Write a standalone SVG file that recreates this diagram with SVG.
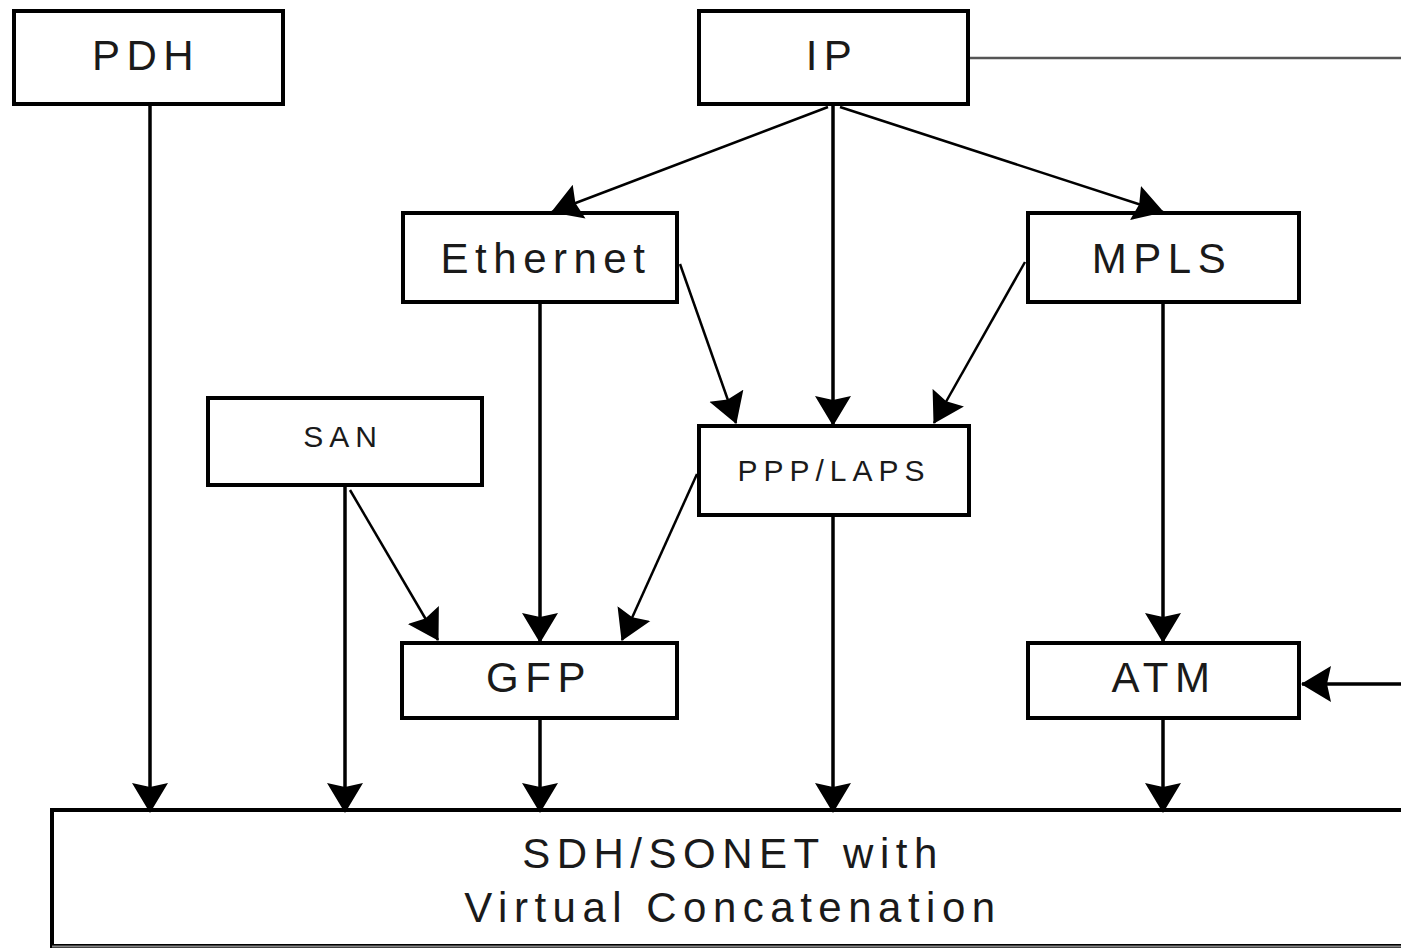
<svg xmlns="http://www.w3.org/2000/svg" width="1401" height="948" viewBox="0 0 1401 948">
  <defs>
    <marker id="head" markerUnits="userSpaceOnUse" viewBox="0 -19 30 38" markerWidth="30" markerHeight="38" refX="29" refY="0" orient="auto">
      <path d="M30,0 L0,-18 L4,0 L0,18 Z" fill="#000"/>
    </marker>
    <style>
      .box { fill: #fff; stroke: #000; stroke-width: 4; }
      .lbl { font-family: "Liberation Sans", Arial, sans-serif; fill: #1a1a1a; text-anchor: middle; }
      .big { font-size: 42px; letter-spacing: 6.5px; }
      .small { font-size: 30px; letter-spacing: 6px; }
      .v { stroke: #000; stroke-width: 3.5; fill: none; }
      .d { stroke: #000; stroke-width: 2.5; fill: none; }
      .arr { marker-end: url(#head); }
    </style>
  </defs>
  <rect width="1401" height="948" fill="#fff"/>

  <!-- bottom layer box -->
  <g id="sdh">
    <rect class="box" x="52" y="810" width="1400" height="136"/>
    <line x1="52" y1="946.5" x2="1401" y2="946.5" stroke="#888" stroke-width="2"/>
    <text class="lbl big" x="733" y="868">SDH/SONET with</text>
    <text class="lbl big" x="733" y="922">Virtual Concatenation</text>
  </g>

  <g id="pdh">
    <rect class="box" x="14" y="11" width="269" height="93"/>
    <text class="lbl big" x="146" y="70">PDH</text>
  </g>
  <g id="ip">
    <rect class="box" x="699" y="11" width="269" height="93"/>
    <text class="lbl big" x="832" y="70">IP</text>
  </g>
  <g id="ethernet">
    <rect class="box" x="403" y="213" width="274" height="89"/>
    <text class="lbl big" x="546" y="273">Ethernet</text>
  </g>
  <g id="mpls">
    <rect class="box" x="1028" y="213" width="271" height="89"/>
    <text class="lbl big" x="1162" y="273">MPLS</text>
  </g>
  <g id="san">
    <rect class="box" x="208" y="398" width="274" height="87"/>
    <text class="lbl small" x="343" y="447">SAN</text>
  </g>
  <g id="ppp-laps">
    <rect class="box" x="699" y="426" width="270" height="89"/>
    <text class="lbl small" x="834" y="481">PPP/LAPS</text>
  </g>
  <g id="gfp">
    <rect class="box" x="402" y="643" width="275" height="75"/>
    <text class="lbl big" x="539" y="692">GFP</text>
  </g>
  <g id="atm">
    <rect class="box" x="1028" y="643" width="271" height="75"/>
    <text class="lbl big" x="1164" y="692">ATM</text>
  </g>

  <g id="connectors">
    <!-- IP continues off to the right -->
    <line x1="970" y1="58" x2="1401" y2="58" stroke="#555" stroke-width="2.5"/>
    <!-- into ATM from the right -->
    <line class="v arr" x1="1401" y1="684" x2="1302" y2="684"/>

    <!-- verticals -->
    <line class="v arr" x1="150" y1="106" x2="150" y2="812"/>
    <line class="v arr" x1="345" y1="487" x2="345" y2="812"/>
    <line class="v arr" x1="540" y1="304" x2="540" y2="642"/>
    <line class="v arr" x1="540" y1="720" x2="540" y2="812"/>
    <line class="v arr" x1="833" y1="106" x2="833" y2="425"/>
    <line class="v arr" x1="833" y1="517" x2="833" y2="812"/>
    <line class="v arr" x1="1163" y1="304" x2="1163" y2="642"/>
    <line class="v arr" x1="1163" y1="720" x2="1163" y2="812"/>

    <!-- diagonals -->
    <line class="d arr" x1="828" y1="107" x2="552" y2="212"/>
    <line class="d arr" x1="840" y1="107" x2="1163" y2="212"/>
    <line class="d arr" x1="680" y1="264" x2="736" y2="423"/>
    <line class="d arr" x1="1025" y1="262" x2="934" y2="423"/>
    <line class="d arr" x1="350" y1="490" x2="438" y2="640"/>
    <line class="d arr" x1="697" y1="474" x2="622" y2="640"/>
  </g>
</svg>
